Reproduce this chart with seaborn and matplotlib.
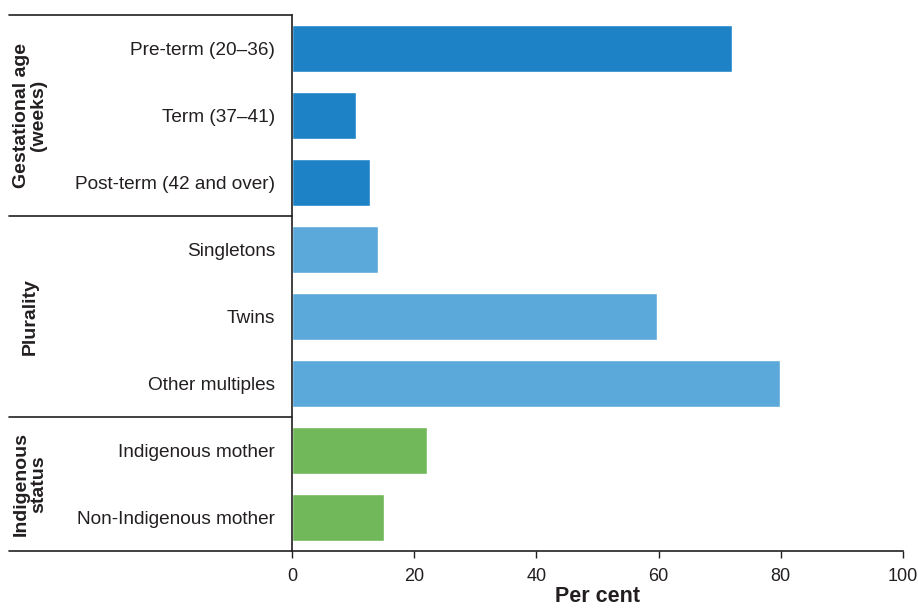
import pandas as pd
import matplotlib.pyplot as plt
import seaborn as sns

# Data
categories = ["Pre-term (20–36)", "Term (37–41)", "Post-term (42 and over)",
              "Singletons", "Twins", "Other multiples",
              "Indigenous mother", "Non-Indigenous mother"]
values = [72.0, 10.5, 12.8, 14.1, 59.7, 79.8, 22.1, 15.1]
groups = ["Gestational age", "Gestational age", "Gestational age",
          "Plurality", "Plurality", "Plurality",
          "Indigenous status", "Indigenous status"]
group_labels = ["Gestational age\n(weeks)", "Plurality", "Indigenous\nstatus"]
group_colors = {"Gestational age": "#1d83c6", "Plurality": "#5ba8da",
                "Indigenous status": "#70b85a"}
x_ticks = [0, 20, 40, 60, 80, 100]

df = pd.DataFrame({"category": categories, "value": values, "group": groups})

sns.set_style("white")
plt.rcParams['font.family'] = ['Liberation Sans', 'DejaVu Sans']

fig = plt.figure(figsize=(9.18, 6.11), dpi=100)
ax = fig.add_axes([292 / 918, 1 - 551 / 611, 611 / 918, 536 / 611])

sns.barplot(data=df, x="value", y="category", hue="group", palette=group_colors,
            orient="h", width=0.7, dodge=False, legend=False, saturation=1, ax=ax)

ax.set_xlim(0, 100)
ax.set_ylim(len(categories) - 0.5, -0.5)
ax.set_xticks(x_ticks)
ax.set_xticklabels([str(t) for t in x_ticks], fontsize=13, color="#231f20")
ax.tick_params(axis="x", direction="out", length=5, width=1, color="#231f20",
               bottom=True, pad=7)
ax.tick_params(axis="y", length=0, pad=12, labelsize=13.7, labelcolor="#231f20")
ax.set_ylabel("")
ax.set_xlabel("Per cent", fontsize=15.5, fontweight="bold", color="#231f20", labelpad=1)

for side in ["top", "right"]:
    ax.spines[side].set_visible(False)
for side in ["left", "bottom"]:
    ax.spines[side].set_color("#231f20")
    ax.spines[side].set_linewidth(1.2)

# group separator lines running into the label area
left = -283 / 611
for yb in [-0.5, 2.5, 5.5, 7.5]:
    ax.plot([left, 0], [yb, yb], transform=ax.get_yaxis_transform(),
            color="#231f20", lw=1.2, clip_on=False)

# rotated group titles
starts = [0, 3, 6]
sizes = [3, 3, 2]
for label, s, n in zip(group_labels, starts, sizes):
    ax.text(-262 / 611, s + (n - 1) / 2, label, transform=ax.get_yaxis_transform(),
            rotation=90, ha="center", va="center", fontsize=14,
            fontweight="bold", color="#231f20", linespacing=1.0)

fig.savefig("out.png", dpi=100)
